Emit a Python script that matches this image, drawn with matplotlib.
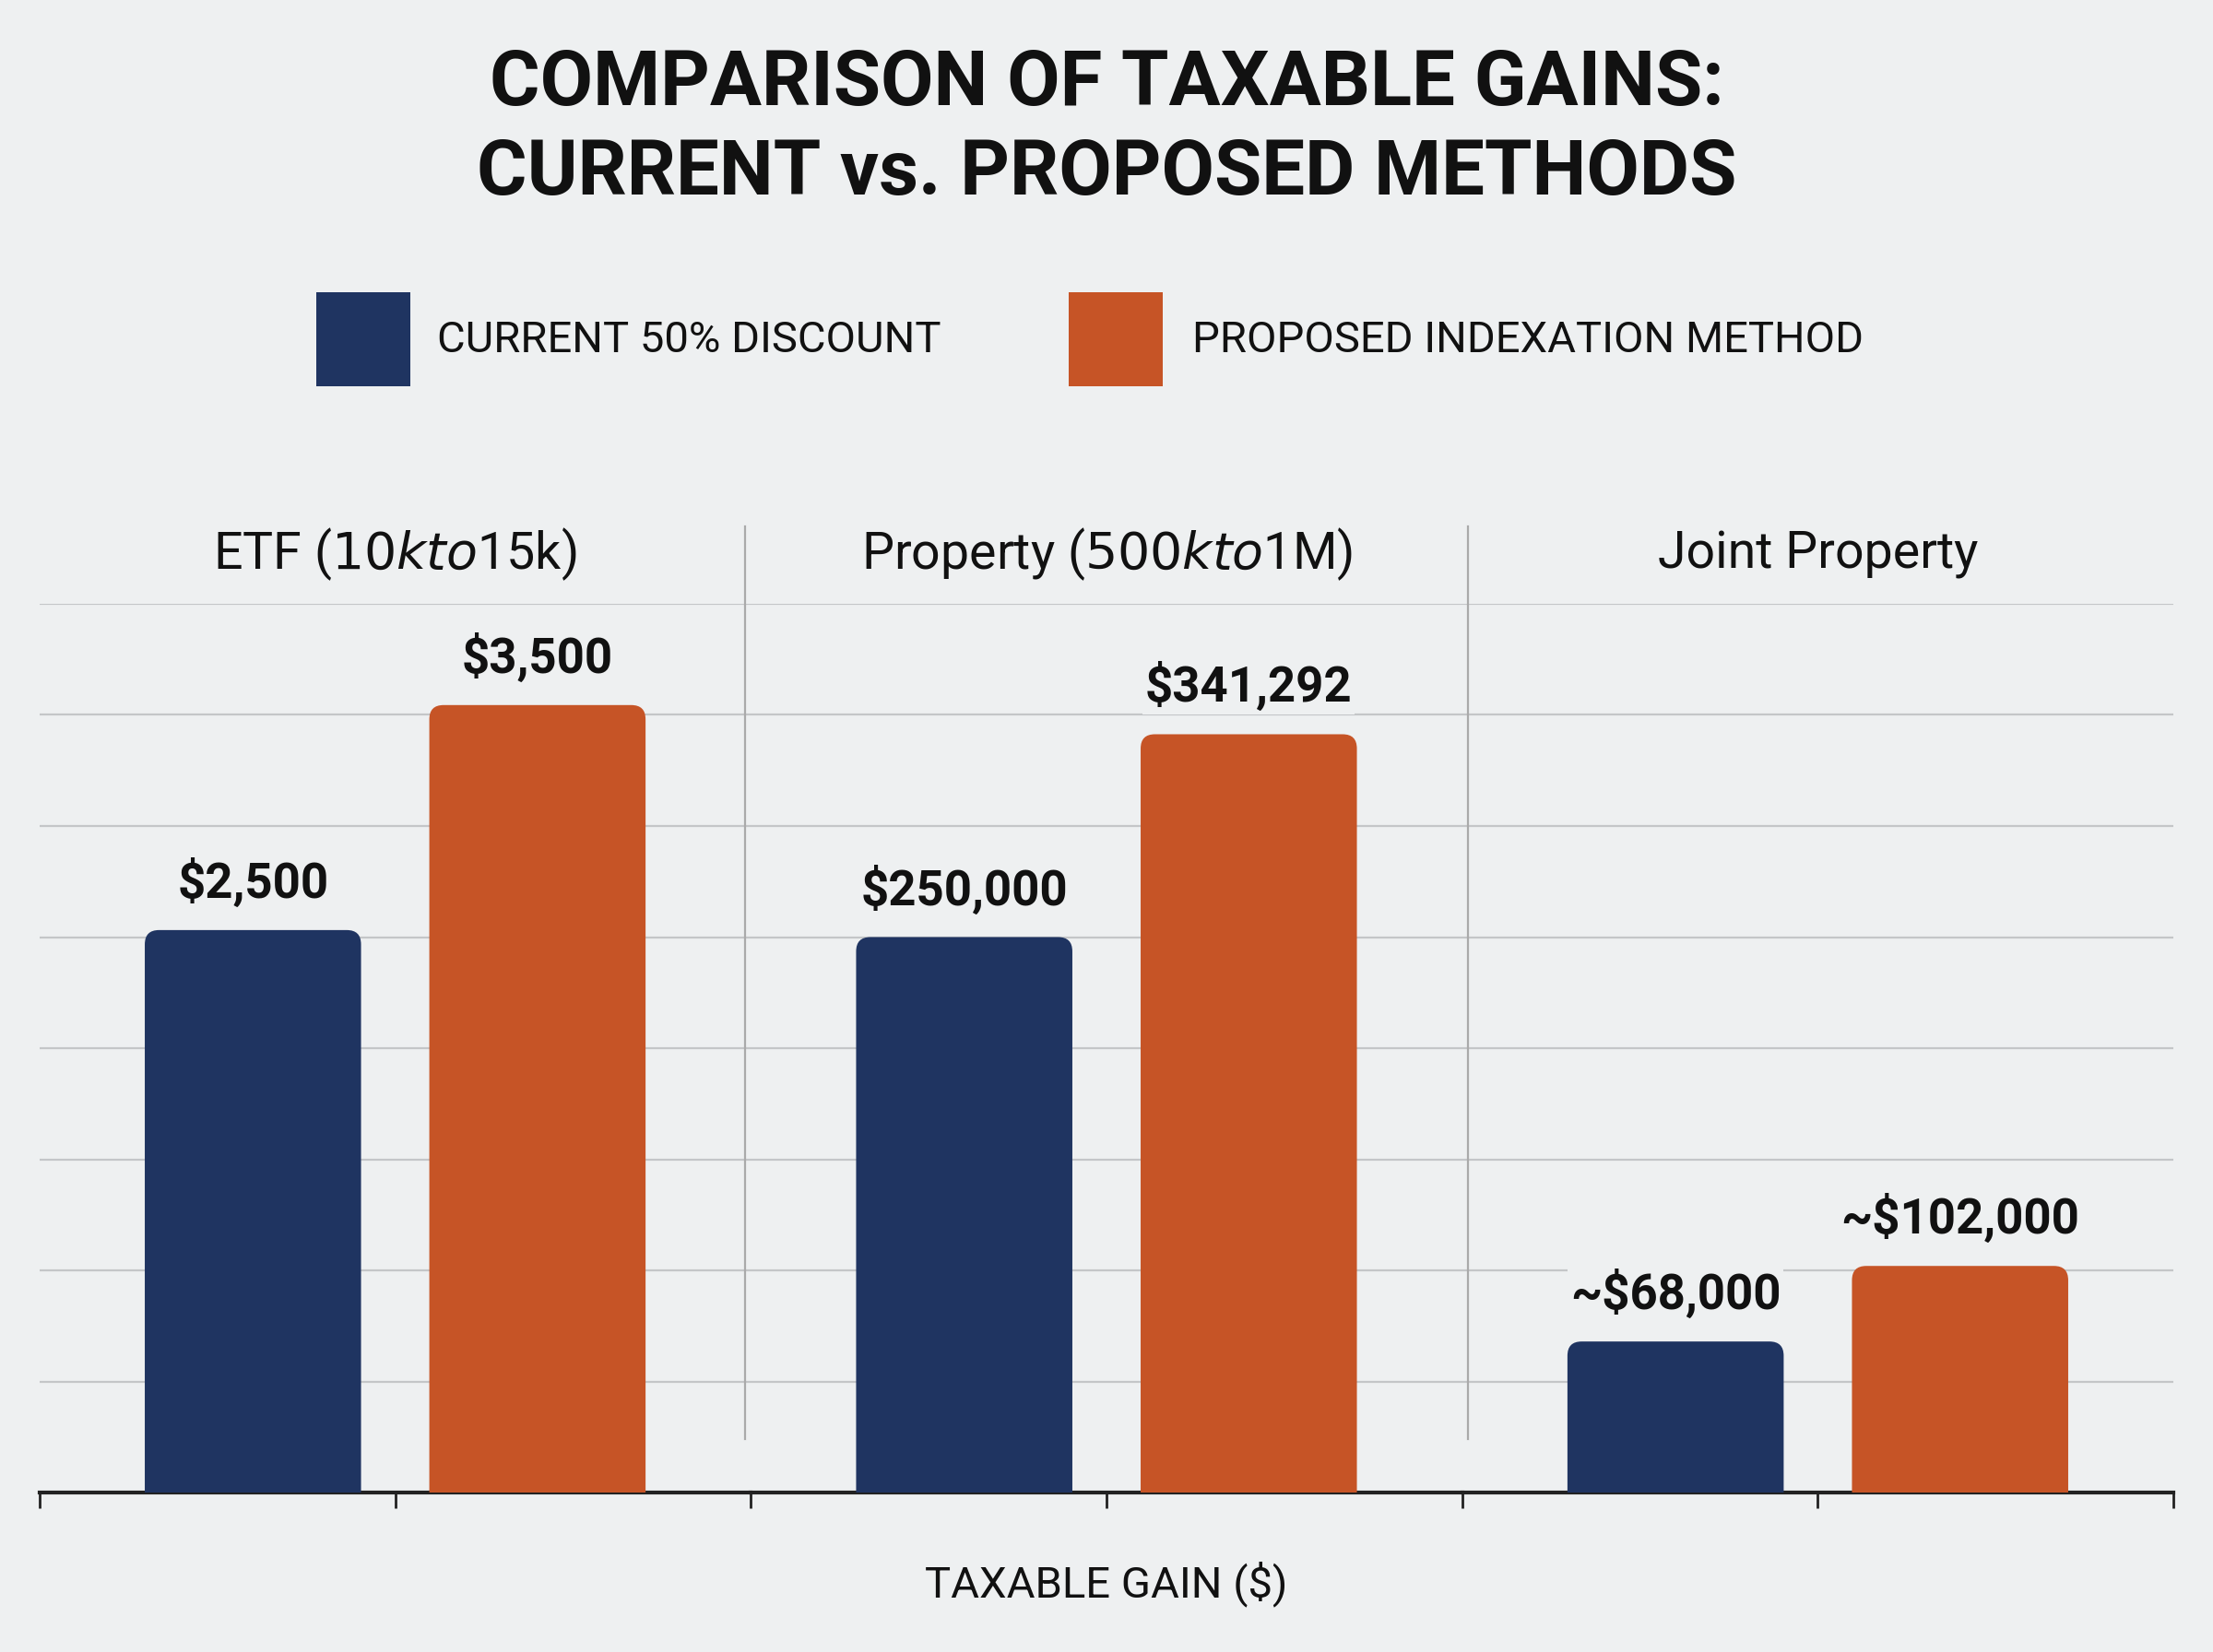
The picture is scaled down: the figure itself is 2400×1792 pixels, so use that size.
import matplotlib
matplotlib.use("Agg")
import matplotlib.pyplot as plt
from matplotlib.patches import FancyBboxPatch, Rectangle
from matplotlib.lines import Line2D
import numpy as np

plt.rcParams['font.family'] = ['Roboto', 'DejaVu Sans']

panels = ["ETF ($10k to $15k)", "Property ($500k to $1M)", "Joint Property"]
current = [2500, 250000, 68000]
proposed = [3500, 341292, 102000]
current_lbl = ["$2,500", "$250,000", "~$68,000"]
proposed_lbl = ["$3,500", "$341,292", "~$102,000"]
ytops = [3950, 400000, 400000]
series = ["CURRENT 50% DISCOUNT", "PROPOSED INDEXATION METHOD"]
colors = ["#1f3461", "#c65426"]
bg = "#eef0f1"

W, H = 1568, 1171
fig = plt.figure(figsize=(12, 8.96), dpi=200, facecolor=bg)
def fx(x): return x / W
def fy(y): return 1 - y / H

left, right, top, bot = 28, 1540, 428, 1058
pw = (right - left) / 3
xlim = (-0.75, 1.75)
bw = 0.76
ax_px_w = pw / W * 2400
ax_px_h = (bot - top) / H * 1792

for i in range(3):
    ax = fig.add_axes([fx(left + i * pw), fy(bot), pw / W, (bot - top) / H])
    ax.set_facecolor("none")
    ax.set_xlim(*xlim)
    ax.set_ylim(0, ytops[i])
    ax.set_yticks(np.linspace(0, ytops[i], 9))
    ax.yaxis.grid(True, color="#c4c6c8", lw=0.8)
    ax.set_axisbelow(True)
    ax.tick_params(axis='y', length=0, labelleft=False)
    ax.set_xticks([-0.75, 0.5, 1.75] if i == 0 else [0.5, 1.75])
    ax.tick_params(axis='x', length=6, width=1, direction='out', labelbottom=False, color="#222")
    for s in ["top", "right", "left"]:
        ax.spines[s].set_visible(False)
    ax.spines["bottom"].set_linewidth(1.5)
    ax.spines["bottom"].set_color("#222")
    ux = (xlim[1] - xlim[0]) / ax_px_w
    uy = ytops[i] / ax_px_h
    r = 0.05
    for j, (v, lbl) in enumerate([(current[i], current_lbl[i]), (proposed[i], proposed_lbl[i])]):
        p = FancyBboxPatch((j - bw / 2, -ytops[i] * 0.05), bw, v + ytops[i] * 0.05,
                           boxstyle=f"round,pad=0,rounding_size={r}",
                           mutation_aspect=uy / ux, fc=colors[j], ec="none", zorder=3)
        ax.add_patch(p)
        p.set_clip_on(True)
        ax.text(j, v + ytops[i] * 0.025, lbl, ha="center", va="bottom",
                fontsize=19, fontweight="bold", color="#111", zorder=4,
                bbox=dict(fc=bg, ec="none", pad=1))
    fig.text(fx(left + i * pw + pw / 2), fy(393), panels[i], ha="center", va="center",
             fontsize=20, color="#111")

for x in [528, 1040]:
    fig.add_artist(Line2D([fx(x), fx(x)], [fy(373), fy(1020)], color="#aaaaaa", lw=0.8))

fig.text(0.5, fy(60), "COMPARISON OF TAXABLE GAINS:", ha="center", va="center",
         fontsize=30, fontweight="bold", color="#111")
fig.text(0.5, fy(123), "CURRENT vs. PROPOSED METHODS", ha="center", va="center",
         fontsize=30, fontweight="bold", color="#111")

for (bx, tx), c, s in zip([(224, 310), (757, 845)], colors, series):
    fig.add_artist(Rectangle((fx(bx), fy(274)), 67 / W, 67 / H, fc=c, ec="none",
                             transform=fig.transFigure))
    fig.text(fx(tx), fy(241), s, ha="left", va="center", fontsize=17, color="#111")

fig.text(fx(784), fy(1123), "TAXABLE GAIN ($)", ha="center", va="center",
         fontsize=17, color="#111")

fig.savefig("out.png", dpi=200, facecolor=bg)
